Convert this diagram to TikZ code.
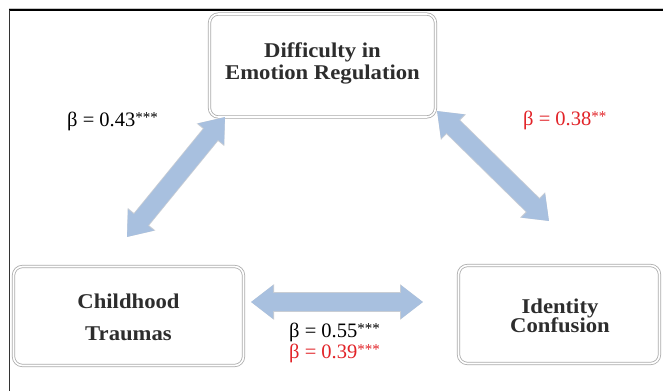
\documentclass[tikz,border=0pt]{standalone}
\usepackage{fontspec}
\setmainfont{Liberation Serif}
\newfontfamily\boxfont[FakeStretch=1.08]{Liberation Serif}
\usetikzlibrary{arrows.meta}
\definecolor{arrowblue}{RGB}{168,192,223}
\definecolor{arrowedge}{RGB}{200,205,212}
\definecolor{betared}{RGB}{226,35,40}
\definecolor{boxtext}{RGB}{45,45,45}
\definecolor{boxedge}{RGB}{170,170,170}
\newcommand{\sigstars}[1]{\raisebox{3.5pt}{\fontsize{15}{15}\selectfont #1}}
\tikzset{
  conceptbox/.style={draw=boxedge, double=white, double distance=1.6pt, line width=0.8pt,
    rounded corners=9pt, fill=white, inner sep=0pt},
  concepttext/.style={align=center, text=boxtext, inner sep=0pt,
    font=\boxfont\bfseries\fontsize{21}{#1}\selectfont},
  betalabel/.style={anchor=base west, inner sep=0pt, font=\fontsize{20.5}{22}\selectfont},
  bigarrow/.style={arrowblue, line width=18pt,
    {Triangle[width=32pt,length=22pt]}-{Triangle[width=32pt,length=22pt]},
    preaction={draw=arrowedge, line width=19.6pt,
      {Triangle[width=34pt,length=23pt]}-{Triangle[width=34pt,length=23pt]}}}
}
\begin{document}
\begin{tikzpicture}[x=1pt,y=-1pt]
\useasboundingbox (0,0) rectangle (663,391);
\fill[white] (0,0) rectangle (663,391);
% frame lines
\draw[gray!45, line width=0.6pt] (9,8.6) -- (663,8.6);
\draw[black, line width=1.6pt] (8.8,10) -- (663,10);
\draw[black!80, line width=1.4pt] (9.5,10) -- (9.5,391);

% boxes
\node[conceptbox, minimum width=226, minimum height=103] (der) at (322.5,65.5) {};
\node[concepttext=22] (dert) at (322.5,63) {Difficulty in\\Emotion Regulation};

\node[conceptbox, minimum width=230, minimum height=99] (ct) at (128.5,316) {};
\node[concepttext=32] (ctt) at (128.5,317) {Childhood\\Traumas};

\node[conceptbox, minimum width=201, minimum height=98] (ic) at (559,314.5) {};
\node[concepttext=19.5] (ict) at (560,316) {Identity\\Confusion};

% arrow end points
\coordinate (a1) at (225,117);
\coordinate (a2) at (127,237);
\coordinate (b1) at (437,111);
\coordinate (b2) at (549,221);
\coordinate (c1) at (251,302);
\coordinate (c2) at (423,302);

\draw[bigarrow] (a1) -- (a2);
\draw[bigarrow] (b1) -- (b2);
\draw[bigarrow] (c1) -- (c2);

% coefficients
\node[betalabel] (beta1) at (67,126) {β = 0.43\sigstars{***}};
\node[betalabel, text=betared] (beta2) at (523,125) {β = 0.38\sigstars{**}};
\node[betalabel] (beta3) at (289,337) {β = 0.55\sigstars{***}};
\node[betalabel, text=betared] (beta4) at (289,358) {β = 0.39\sigstars{***}};
\end{tikzpicture}
\end{document}
